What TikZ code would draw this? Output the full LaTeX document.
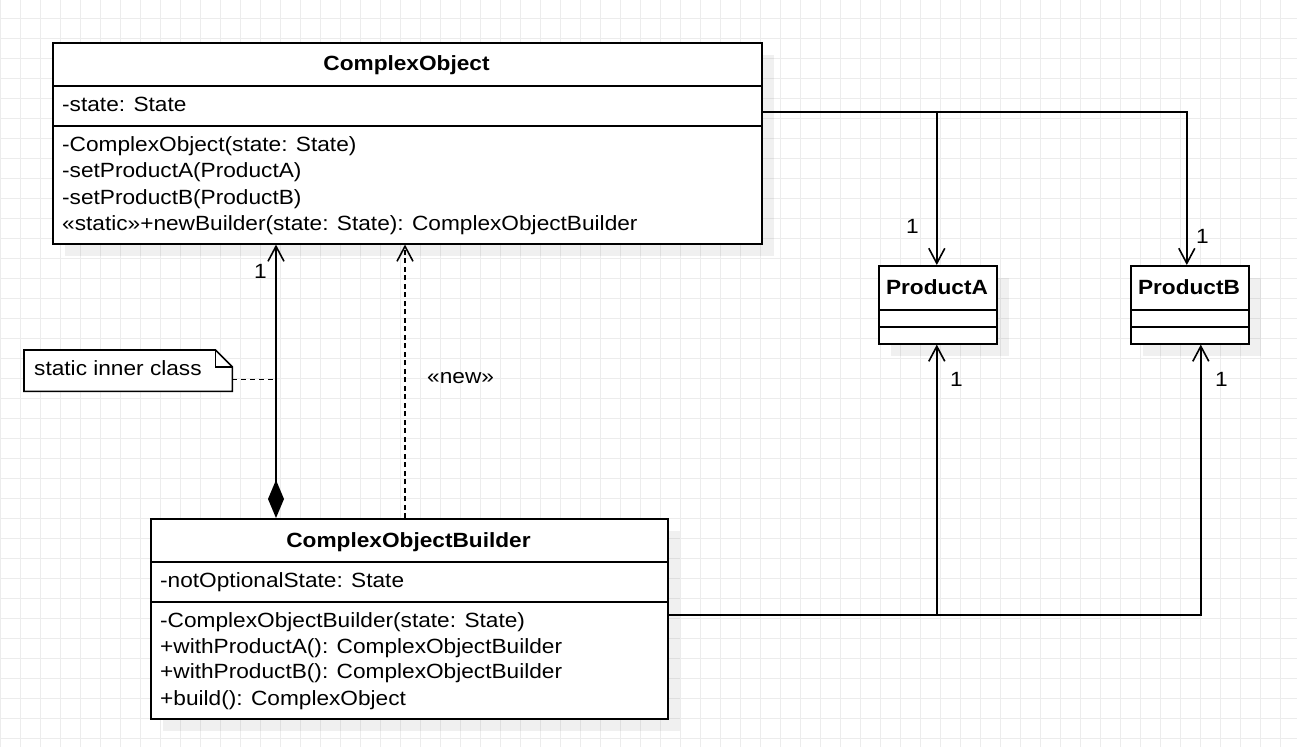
\documentclass[tikz,border=0pt]{standalone}
\usepackage{fontspec}
\setmainfont[FakeStretch=1.1]{Liberation Sans}
\usetikzlibrary{arrows.meta,shadows,calc}
\definecolor{gridc}{RGB}{236,236,236}
\tikzset{
  gridline/.style={draw=gridc, line width=1pt},
  classbox/.style={draw=black, line width=1.6pt, fill=white, inner sep=0pt, anchor=north west,
    drop shadow={shadow xshift=12pt, shadow yshift=-12pt, fill=black, opacity=0.06}},
  sep/.style={line width=1.6pt},
  txt/.style={font=\fontsize{20.6}{24}\selectfont, inner sep=0pt, anchor=base west},
  ctitle/.style={font=\fontsize{20.6}{24}\selectfont\bfseries, inner sep=0pt, anchor=base},
  vtip/.tip={Straight Barb[length=15pt,width=16pt,line width=1.6pt]},
  assoc/.style={line width=1.6pt, -vtip},
  compo/.style={line width=1.6pt, {Diamond[length=38pt,width=16pt]}-vtip},
  dep/.style={line width=1.6pt, dash pattern=on 5pt off 3.5pt, -vtip},
  notelink/.style={line width=1.3pt, dash pattern=on 5pt off 4pt},
}
\begin{document}
\begin{tikzpicture}[x=1pt,y=-1pt]
\useasboundingbox (0,0) rectangle (1297,747);
\fill[white] (0,0) rectangle (1297,747);
% grid
\foreach \i in {0,...,64} \draw[gridline] (20*\i+0.5,0) -- (20*\i+0.5,747);
\foreach \j in {0,...,36} \draw[gridline] (0,20*\j+18) -- (1297,20*\j+18);

% classes
\node[classbox, minimum width=709pt, minimum height=201pt] (co) at (52,42) {};
\node[classbox, minimum width=517pt, minimum height=200pt] (cob) at (150,518) {};
\node[classbox, minimum width=118pt, minimum height=78pt] (pa) at (878,265) {};
\node[classbox, minimum width=118pt, minimum height=78pt] (pb) at (1130,265) {};

% separators
\draw[sep] ($(co.north west)+(0,44)$) -- ($(co.north east)+(0,44)$);
\draw[sep] ($(co.north west)+(0,84)$) -- ($(co.north east)+(0,84)$);
\draw[sep] ($(cob.north west)+(0,44)$) -- ($(cob.north east)+(0,44)$);
\draw[sep] ($(cob.north west)+(0,84)$) -- ($(cob.north east)+(0,84)$);
\draw[sep] ($(pa.north west)+(0,45)$) -- ($(pa.north east)+(0,45)$);
\draw[sep] ($(pa.north west)+(0,62)$) -- ($(pa.north east)+(0,62)$);
\draw[sep] ($(pb.north west)+(0,45)$) -- ($(pb.north east)+(0,45)$);
\draw[sep] ($(pb.north west)+(0,62)$) -- ($(pb.north east)+(0,62)$);

% titles
\node[ctitle] (cot) at (406.5,70) {ComplexObject};
\node[ctitle] (cobt) at (408.5,547) {ComplexObjectBuilder};
\node[ctitle] (pat) at (937,294) {ProductA};
\node[ctitle] (pbt) at (1189,294) {ProductB};

% ComplexObject members
\node[txt] (co1) at (62,111) {-state: State};
\node[txt] (co2) at (62,151) {-ComplexObject(state: State)};
\node[txt] (co3) at (62,177.5) {-setProductA(ProductA)};
\node[txt] (co4) at (62,204) {-setProductB(ProductB)};
\node[txt] (co5) at (62,230.5) {«static»+newBuilder(state: State): ComplexObjectBuilder};

% Builder members
\node[txt] (cb1) at (160,587) {-notOptionalState: State};
\node[txt] (cb2) at (160,627) {-ComplexObjectBuilder(state: State)};
\node[txt] (cb3) at (160,653) {+withProductA(): ComplexObjectBuilder};
\node[txt] (cb4) at (160,678.5) {+withProductB(): ComplexObjectBuilder};
\node[txt] (cb5) at (160,705) {+build(): ComplexObject};

% note
\node[inner sep=0pt, minimum width=208pt, minimum height=41pt, anchor=north west] (note) at (24,350) {};
\draw[line width=1.6pt, fill=white] (note.north west) -- ($(note.north east)+(-17,0)$) -- ($(note.north east)+(0,17)$) -- (note.south east) -- (note.south west) -- cycle;
\draw[line width=1.6pt] ($(note.north east)+(-17,0)$) -- ($(note.north east)+(-17,17)$) -- ($(note.north east)+(0,17)$);
\node[txt] (notet) at (34,375) {static inner class};

% connectors
\draw[assoc] ($(co.north east)+(0,70)$) -| ($(pa.north)+(-1,0)$);
\draw[assoc] ($(co.north east)+(0,70)$) -| ($(pb.north)+(-3,0)$);
\draw[assoc] ($(cob.north east)+(0,97)$) -| ($(pa.south)+(-1,0)$);
\draw[assoc] ($(cob.north east)+(0,97)$) -| ($(pb.south)+(11,0)$);
\draw[compo] ($(cob.north west)+(126,0)$) coordinate (cA) -- ($(co.south west)+(224,0)$) coordinate (cB);
\draw[dep] ($(cob.north west)+(255,0)$) -- ($(co.south west)+(353,0)$);
\draw[notelink] ($(note.east)+(0,8.5)$) -- ($(note.east -| cA)+(0,8.5)$);

% labels
\node[txt] (m1) at (906,233) {1};
\node[txt] (m2) at (1196,243) {1};
\node[txt] (m3) at (950,386) {1};
\node[txt] (m4) at (1215,386) {1};
\node[txt] (m5) at (254,278) {1};
\node[txt] (lnew) at (427,383) {«new»};
\end{tikzpicture}
\end{document}
